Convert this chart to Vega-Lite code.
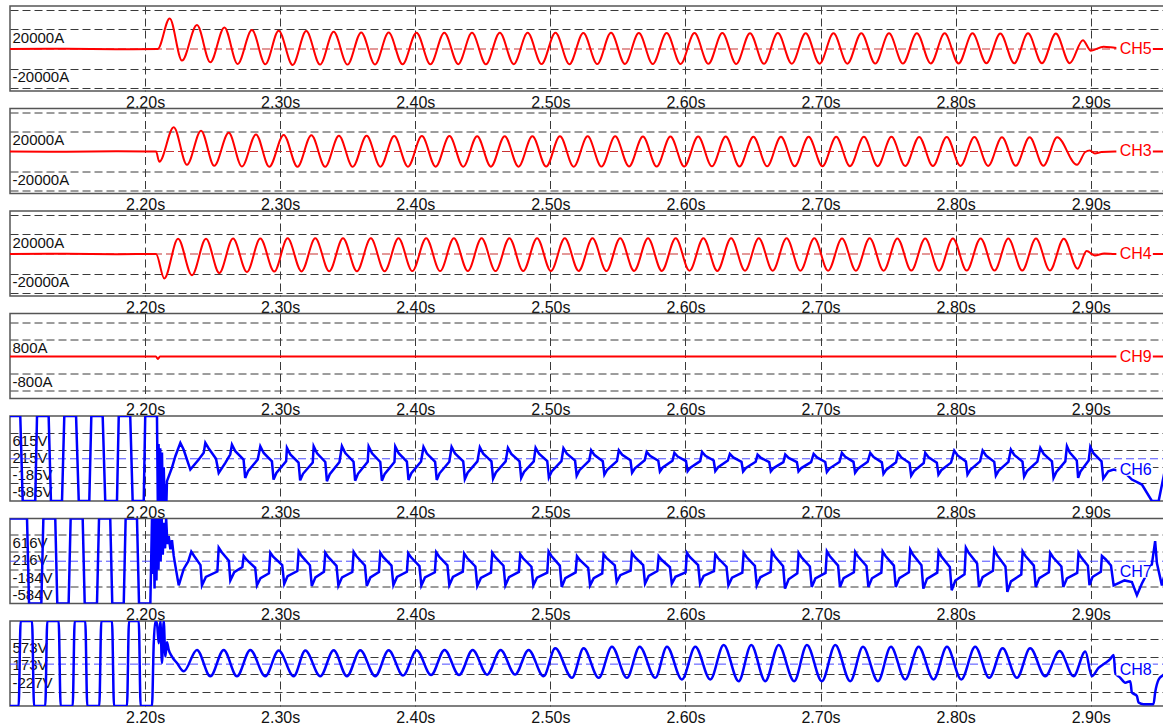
{
"$schema":"https://vega.github.io/schema/vega-lite/v6.json",
"padding":{"left":8,"top":5,"right":0,"bottom":0},
"background":"white",
"config":{"font":"Liberation Sans","view":{"stroke":"#555555","strokeWidth":1.5},
"axisX":{"grid":true,"gridDash":[8,4],"gridColor":"#3a3a3a","gridWidth":1,"gridOpacity":1,"ticks":false,"domain":false,"labelFontSize":16,"labelColor":"#111111","labelPadding":3,"labelFlush":false,"labelOverlap":false},
"axisY":{"grid":true,"gridDash":[8,4],"gridColor":"#3a3a3a","gridWidth":1,"gridOpacity":1,"ticks":false,"tickSize":0,"domain":false,"labelAlign":"left","labelBaseline":"top","labelPadding":-2,"labelOffset":1,"labelFontSize":15,"labelColor":"#111111","labelOverlap":false,"labelFlush":false}},
"datasets":{
"ch5":[{"t":2.1000,"v":0},{"t":2.1400,"v":300},{"t":2.1800,"v":-200},{"t":2.2093,"v":0},
{"t":2.2182,"v":31300},{"t":2.2273,"v":-11900},{"t":2.2384,"v":24500},{"t":2.2483,"v":-13600},{"t":2.2587,"v":22100},{"t":2.2685,"v":-15300},{"t":2.2791,"v":19400},{"t":2.2890,"v":-15600},{"t":2.2989,"v":18700},{"t":2.3092,"v":-16300},{"t":2.3193,"v":18400},{"t":2.3295,"v":-16000},{"t":2.3396,"v":17700},{"t":2.3498,"v":-16000},{"t":2.3600,"v":17000},{"t":2.3702,"v":-15800},{"t":2.3803,"v":16800},{"t":2.3906,"v":-15600},
{"t":2.4009,"v":16600},{"t":2.4112,"v":-15600},{"t":2.4215,"v":16700},{"t":2.4318,"v":-15500},{"t":2.4420,"v":16500},{"t":2.4523,"v":-15600},{"t":2.4626,"v":16600},{"t":2.4729,"v":-15500},{"t":2.4832,"v":16500},{"t":2.4935,"v":-15400},{"t":2.5038,"v":16600},{"t":2.5141,"v":-15500},{"t":2.5244,"v":16400},{"t":2.5347,"v":-15400},{"t":2.5449,"v":16500},{"t":2.5552,"v":-15300},{"t":2.5655,"v":16300},{"t":2.5758,"v":-15400},{"t":2.5861,"v":16400},{"t":2.5964,"v":-15300},{"t":2.6067,"v":16300},{"t":2.6170,"v":-15200},{"t":2.6273,"v":16400},{"t":2.6376,"v":-15300},{"t":2.6478,"v":16200},{"t":2.6581,"v":-15200},{"t":2.6684,"v":16300},{"t":2.6787,"v":-15100},{"t":2.6890,"v":16200},{"t":2.6993,"v":-15000},{"t":2.7096,"v":16100},{"t":2.7199,"v":-15000},{"t":2.7302,"v":16200},{"t":2.7405,"v":-14900},{"t":2.7507,"v":16000},{"t":2.7610,"v":-14900},{"t":2.7713,"v":16100},{"t":2.7816,"v":-14800},{"t":2.7919,"v":16000},{"t":2.8022,"v":-14800},{"t":2.8125,"v":16000},{"t":2.8228,"v":-14700},{"t":2.8331,"v":15900},{"t":2.8434,"v":-14700},{"t":2.8536,"v":16000},{"t":2.8639,"v":-14600},{"t":2.8742,"v":15900},{"t":2.8845,"v":-14600},
{"t":2.8942,"v":9000},{"t":2.9002,"v":-1700},{"t":2.9095,"v":2400},{"t":2.9178,"v":1300},{"t":2.9300,"v":0},{"t":2.9550,"v":0}],
"ch3":[{"t":2.1000,"v":0},{"t":2.1400,"v":-300},{"t":2.1800,"v":200},{"t":2.2081,"v":0},{"t":2.2105,"v":-10500},
{"t":2.2212,"v":24800},{"t":2.2310,"v":-13700},{"t":2.2414,"v":21300},{"t":2.2512,"v":-14700},{"t":2.2619,"v":19200},{"t":2.2717,"v":-15400},{"t":2.2821,"v":17500},{"t":2.2919,"v":-15700},{"t":2.3026,"v":17000},{"t":2.3128,"v":-15700},
{"t":2.3231,"v":16600},{"t":2.3333,"v":-15600},{"t":2.3435,"v":16200},{"t":2.3537,"v":-15700},{"t":2.3640,"v":16000},{"t":2.3742,"v":-15600},{"t":2.3844,"v":15900},{"t":2.3946,"v":-15600},{"t":2.4049,"v":15800},{"t":2.4151,"v":-15500},{"t":2.4253,"v":15800},{"t":2.4355,"v":-15600},{"t":2.4458,"v":15700},{"t":2.4560,"v":-15500},{"t":2.4662,"v":15700},{"t":2.4764,"v":-15500},{"t":2.4867,"v":15600},{"t":2.4969,"v":-15400},{"t":2.5071,"v":15600},{"t":2.5173,"v":-15500},{"t":2.5276,"v":15500},{"t":2.5378,"v":-15400},{"t":2.5480,"v":15500},{"t":2.5582,"v":-15300},{"t":2.5685,"v":15400},{"t":2.5787,"v":-15400},{"t":2.5889,"v":15400},{"t":2.5991,"v":-15300},{"t":2.6094,"v":15300},{"t":2.6196,"v":-15200},{"t":2.6298,"v":15300},{"t":2.6400,"v":-15300},{"t":2.6503,"v":15200},{"t":2.6605,"v":-15200},{"t":2.6707,"v":15200},{"t":2.6809,"v":-15100},{"t":2.6912,"v":15100},{"t":2.7014,"v":-15100},{"t":2.7116,"v":15100},{"t":2.7218,"v":-15000},{"t":2.7321,"v":15000},{"t":2.7423,"v":-15000},{"t":2.7525,"v":15000},{"t":2.7627,"v":-14900},{"t":2.7730,"v":14900},{"t":2.7832,"v":-14900},{"t":2.7934,"v":14900},{"t":2.8036,"v":-14800},{"t":2.8139,"v":14800},{"t":2.8241,"v":-14800},{"t":2.8343,"v":14700},{"t":2.8445,"v":-14700},{"t":2.8548,"v":14600},{"t":2.8650,"v":-14700},{"t":2.8752,"v":14500},{"t":2.8898,"v":-13700},
{"t":2.8960,"v":-500},{"t":2.8994,"v":1000},{"t":2.9031,"v":-2000},{"t":2.9080,"v":-500},{"t":2.9180,"v":0},{"t":2.9550,"v":0}],
"ch4":[{"t":2.1000,"v":0},{"t":2.1400,"v":300},{"t":2.1800,"v":-200},{"t":2.2081,"v":0},{"t":2.2142,"v":-25000},
{"t":2.2244,"v":15600},{"t":2.2347,"v":-21700},{"t":2.2451,"v":15600},{"t":2.2549,"v":-19400},{"t":2.2651,"v":15800},{"t":2.2754,"v":-18400},{"t":2.2853,"v":15800},{"t":2.2956,"v":-18000},{"t":2.3055,"v":16000},{"t":2.3158,"v":-17800},
{"t":2.3260,"v":16000},{"t":2.3363,"v":-17700},{"t":2.3465,"v":16100},{"t":2.3568,"v":-17600},{"t":2.3671,"v":16000},{"t":2.3773,"v":-17600},{"t":2.3876,"v":16100},{"t":2.3978,"v":-17500},{"t":2.4081,"v":16000},{"t":2.4184,"v":-17500},{"t":2.4286,"v":16100},{"t":2.4389,"v":-17400},{"t":2.4491,"v":16000},{"t":2.4594,"v":-17500},{"t":2.4697,"v":16000},{"t":2.4799,"v":-17400},{"t":2.4902,"v":16100},{"t":2.5004,"v":-17400},{"t":2.5107,"v":16000},{"t":2.5210,"v":-17300},{"t":2.5312,"v":16000},{"t":2.5415,"v":-17400},{"t":2.5517,"v":16100},{"t":2.5620,"v":-17300},{"t":2.5723,"v":16000},{"t":2.5825,"v":-17300},{"t":2.5928,"v":16000},{"t":2.6030,"v":-17200},{"t":2.6133,"v":16100},{"t":2.6236,"v":-17300},{"t":2.6338,"v":16000},{"t":2.6441,"v":-17200},{"t":2.6543,"v":16000},{"t":2.6646,"v":-17200},{"t":2.6749,"v":16000},{"t":2.6851,"v":-17100},{"t":2.6954,"v":16000},{"t":2.7056,"v":-17200},{"t":2.7159,"v":15900},{"t":2.7262,"v":-17100},{"t":2.7364,"v":16000},{"t":2.7467,"v":-17100},{"t":2.7569,"v":15900},{"t":2.7672,"v":-17000},{"t":2.7775,"v":15900},{"t":2.7877,"v":-17100},{"t":2.7980,"v":15900},{"t":2.8082,"v":-17000},{"t":2.8185,"v":15900},{"t":2.8288,"v":-17000},{"t":2.8390,"v":15800},{"t":2.8493,"v":-17000},{"t":2.8595,"v":15800},{"t":2.8698,"v":-16900},{"t":2.8801,"v":15700},{"t":2.8903,"v":-15000},
{"t":2.8970,"v":3000},{"t":2.9030,"v":-1500},{"t":2.9100,"v":500},{"t":2.9180,"v":0},{"t":2.9550,"v":0}],
"ch9":[{"t":2.1000,"v":0},{"t":2.2080,"v":0},{"t":2.2095,"v":-110},{"t":2.2110,"v":0},{"t":2.9550,"v":0}],
"ch6":[{"t":2.1000,"v":1013},{"t":2.1076,"v":1013},{"t":2.1094,"v":-1000},{"t":2.1187,"v":-1000},{"t":2.1200,"v":1013},{"t":2.1286,"v":1013},{"t":2.1303,"v":-1000},{"t":2.1385,"v":-1000},{"t":2.1402,"v":1013},{"t":2.1489,"v":1013},{"t":2.1509,"v":-1000},{"t":2.1587,"v":-1000},{"t":2.1602,"v":1013},{"t":2.1686,"v":1013},{"t":2.1705,"v":-1000},{"t":2.1792,"v":-1000},{"t":2.1805,"v":1013},{"t":2.1890,"v":1013},{"t":2.1908,"v":-1000},{"t":2.1990,"v":-1000},{"t":2.2001,"v":1013},{"t":2.2088,"v":1013},
{"t":2.2094,"v":-1000},{"t":2.2100,"v":350},{"t":2.2106,"v":-1000},{"t":2.2112,"v":250},{"t":2.2118,"v":-1000},{"t":2.2125,"v":150},{"t":2.2131,"v":-1000},{"t":2.2138,"v":-200},{"t":2.2145,"v":-1000},{"t":2.2152,"v":-600},{"t":2.2158,"v":-1000},{"t":2.2162,"v":-530},
{"t":2.2199,"v":-210},{"t":2.2224,"v":60},{"t":2.2261,"v":377},{"t":2.2285,"v":218},{"t":2.2335,"v":-256},{"t":2.2397,"v":-19},{"t":2.2434,"v":140},{"t":2.2446,"v":377},{"t":2.2470,"v":250},{"t":2.2525,"v":0},{"t":2.2545,"v":-335},{"t":2.2594,"v":-97},{"t":2.2630,"v":100},
{"t":2.2643,"v":337},{"t":2.2668,"v":179},{"t":2.2729,"v":-19},{"t":2.2741,"v":-453},{"t":2.2762,"v":-295},{"t":2.2834,"v":-18},
{"t":2.2853,"v":296},{"t":2.2878,"v":138},{"t":2.2939,"v":-59},{"t":2.2951,"v":-493},{"t":2.2972,"v":-335},{"t":2.3044,"v":-59},
{"t":2.3050,"v":258},{"t":2.3075,"v":104},{"t":2.3136,"v":-88},{"t":2.3148,"v":-510},{"t":2.3169,"v":-356},{"t":2.3241,"v":-88},
{"t":2.3248,"v":296},{"t":2.3273,"v":131},{"t":2.3334,"v":-76},{"t":2.3346,"v":-530},{"t":2.3367,"v":-365},{"t":2.3439,"v":-76},
{"t":2.3457,"v":300},{"t":2.3482,"v":136},{"t":2.3543,"v":-69},{"t":2.3555,"v":-520},{"t":2.3576,"v":-356},{"t":2.3648,"v":-69},
{"t":2.3655,"v":290},{"t":2.3680,"v":128},{"t":2.3741,"v":-75},{"t":2.3753,"v":-520},{"t":2.3774,"v":-358},{"t":2.3846,"v":-75},
{"t":2.3852,"v":290},{"t":2.3877,"v":132},{"t":2.3938,"v":-66},{"t":2.3950,"v":-500},{"t":2.3971,"v":-342},{"t":2.4043,"v":-66},
{"t":2.4061,"v":280},{"t":2.4086,"v":124},{"t":2.4147,"v":-71},{"t":2.4159,"v":-500},{"t":2.4180,"v":-344},{"t":2.4252,"v":-71},
{"t":2.4269,"v":280},{"t":2.4294,"v":128},{"t":2.4355,"v":-62},{"t":2.4367,"v":-480},{"t":2.4388,"v":-328},{"t":2.4460,"v":-62},
{"t":2.4478,"v":270},{"t":2.4503,"v":122},{"t":2.4564,"v":-63},{"t":2.4576,"v":-470},{"t":2.4597,"v":-322},{"t":2.4669,"v":-63},
{"t":2.4686,"v":258},{"t":2.4711,"v":116},{"t":2.4772,"v":-62},{"t":2.4784,"v":-453},{"t":2.4805,"v":-311},{"t":2.4877,"v":-62},
{"t":2.4891,"v":258},{"t":2.4916,"v":118},{"t":2.4977,"v":-56},{"t":2.4989,"v":-440},{"t":2.5010,"v":-300},{"t":2.5082,"v":-56},
{"t":2.5097,"v":250},{"t":2.5122,"v":120},{"t":2.5183,"v":-43},{"t":2.5195,"v":-400},{"t":2.5216,"v":-270},{"t":2.5288,"v":-43},
{"t":2.5302,"v":202},{"t":2.5327,"v":87},{"t":2.5388,"v":-57},{"t":2.5400,"v":-374},{"t":2.5421,"v":-259},{"t":2.5493,"v":-57},
{"t":2.5507,"v":202},{"t":2.5532,"v":96},{"t":2.5593,"v":-37},{"t":2.5605,"v":-330},{"t":2.5626,"v":-224},{"t":2.5698,"v":-37},
{"t":2.5713,"v":163},{"t":2.5738,"v":70},{"t":2.5799,"v":-45},{"t":2.5811,"v":-300},{"t":2.5832,"v":-207},{"t":2.5904,"v":-45},
{"t":2.5918,"v":140},{"t":2.5943,"v":53},{"t":2.6004,"v":-56},{"t":2.6016,"v":-296},{"t":2.6037,"v":-209},{"t":2.6109,"v":-56},
{"t":2.6123,"v":163},{"t":2.6148,"v":72},{"t":2.6209,"v":-41},{"t":2.6221,"v":-290},{"t":2.6242,"v":-199},{"t":2.6314,"v":-41},
{"t":2.6329,"v":116},{"t":2.6354,"v":33},{"t":2.6415,"v":-71},{"t":2.6427,"v":-300},{"t":2.6448,"v":-217},{"t":2.6520,"v":-71},
{"t":2.6534,"v":100},{"t":2.6559,"v":20},{"t":2.6620,"v":-80},{"t":2.6632,"v":-300},{"t":2.6653,"v":-220},{"t":2.6725,"v":-80},
{"t":2.6739,"v":100},{"t":2.6764,"v":20},{"t":2.6825,"v":-80},{"t":2.6837,"v":-300},{"t":2.6858,"v":-220},{"t":2.6930,"v":-80},
{"t":2.6949,"v":116},{"t":2.6974,"v":31},{"t":2.7035,"v":-76},{"t":2.7047,"v":-311},{"t":2.7068,"v":-226},{"t":2.7140,"v":-76},
{"t":2.7158,"v":140},{"t":2.7183,"v":46},{"t":2.7244,"v":-72},{"t":2.7256,"v":-330},{"t":2.7277,"v":-236},{"t":2.7349,"v":-72},
{"t":2.7368,"v":140},{"t":2.7393,"v":40},{"t":2.7454,"v":-84},{"t":2.7466,"v":-358},{"t":2.7487,"v":-258},{"t":2.7559,"v":-84},
{"t":2.7573,"v":140},{"t":2.7598,"v":32},{"t":2.7659,"v":-102},{"t":2.7671,"v":-398},{"t":2.7692,"v":-290},{"t":2.7764,"v":-102},
{"t":2.7775,"v":140},{"t":2.7800,"v":37},{"t":2.7861,"v":-91},{"t":2.7873,"v":-374},{"t":2.7894,"v":-271},{"t":2.7966,"v":-91},
{"t":2.7990,"v":194},{"t":2.8015,"v":80},{"t":2.8076,"v":-62},{"t":2.8088,"v":-374},{"t":2.8109,"v":-260},{"t":2.8181,"v":-62},
{"t":2.8200,"v":194},{"t":2.8225,"v":76},{"t":2.8286,"v":-72},{"t":2.8298,"v":-398},{"t":2.8319,"v":-280},{"t":2.8391,"v":-72},
{"t":2.8409,"v":218},{"t":2.8434,"v":90},{"t":2.8495,"v":-67},{"t":2.8507,"v":-420},{"t":2.8528,"v":-292},{"t":2.8605,"v":-67},
{"t":2.8627,"v":258},{"t":2.8652,"v":116},{"t":2.8713,"v":-62},{"t":2.8725,"v":-453},{"t":2.8746,"v":-311},{"t":2.8812,"v":-62},
{"t":2.8824,"v":296},{"t":2.8845,"v":146},{"t":2.8897,"v":-41},{"t":2.8907,"v":-453},{"t":2.8924,"v":-303},{"t":2.8985,"v":-41},
{"t":2.8997,"v":282},{"t":2.9020,"v":132},{"t":2.9080,"v":-60},{"t":2.9093,"v":-469},{"t":2.9130,"v":-296},{"t":2.9170,"v":-256},
{"t":2.9250,"v":-320},{"t":2.9305,"v":-493},{"t":2.9379,"v":-611},{"t":2.9453,"v":-1000},{"t":2.9503,"v":-1000},{"t":2.9540,"v":-414},{"t":2.9550,"v":-250}],
"ch7":[{"t":2.1000,"v":1000},{"t":2.1126,"v":1000},{"t":2.1141,"v":-990},{"t":2.1232,"v":-990},{"t":2.1247,"v":1000},{"t":2.1335,"v":1000},{"t":2.1350,"v":-990},{"t":2.1434,"v":-990},{"t":2.1449,"v":1000},{"t":2.1538,"v":1000},{"t":2.1553,"v":-990},{"t":2.1644,"v":-990},{"t":2.1659,"v":1000},{"t":2.1742,"v":1000},{"t":2.1757,"v":-990},{"t":2.1842,"v":-990},{"t":2.1856,"v":1000},{"t":2.1940,"v":1000},{"t":2.1955,"v":-990},{"t":2.2039,"v":-990},{"t":2.2051,"v":1000},
{"t":2.2057,"v":-300},{"t":2.2063,"v":1000},{"t":2.2070,"v":-640},{"t":2.2077,"v":1000},{"t":2.2084,"v":-450},{"t":2.2091,"v":1000},{"t":2.2099,"v":-200},{"t":2.2107,"v":1000},{"t":2.2115,"v":0},{"t":2.2123,"v":1000},{"t":2.2131,"v":150},{"t":2.2140,"v":900},{"t":2.2148,"v":300},{"t":2.2156,"v":1000},{"t":2.2165,"v":400},{"t":2.2175,"v":584},{"t":2.2187,"v":278},{"t":2.2199,"v":492},{"t":2.2212,"v":124},{"t":2.2224,"v":-106},{"t":2.2249,"v":-566},{"t":2.2286,"v":-182},{"t":2.2320,"v":0},
{"t":2.2342,"v":225},{"t":2.2363,"v":122},{"t":2.2410,"v":-91},{"t":2.2421,"v":-566},{"t":2.2450,"v":-368},{"t":2.2535,"v":-242},
{"t":2.2545,"v":317},{"t":2.2566,"v":217},{"t":2.2620,"v":10},{"t":2.2631,"v":-450},{"t":2.2660,"v":-258},{"t":2.2720,"v":-136},
{"t":2.2730,"v":124},{"t":2.2751,"v":34},{"t":2.2815,"v":-152},{"t":2.2828,"v":-566},{"t":2.2855,"v":-394},{"t":2.2917,"v":-283},
{"t":2.2927,"v":202},{"t":2.2948,"v":107},{"t":2.3015,"v":-91},{"t":2.3030,"v":-530},{"t":2.3055,"v":-347},{"t":2.3127,"v":-230},
{"t":2.3137,"v":230},{"t":2.3158,"v":125},{"t":2.3220,"v":-94},{"t":2.3234,"v":-580},{"t":2.3261,"v":-378},{"t":2.3324,"v":-248},
{"t":2.3334,"v":200},{"t":2.3355,"v":100},{"t":2.3417,"v":-108},{"t":2.3431,"v":-570},{"t":2.3458,"v":-378},{"t":2.3534,"v":-254},
{"t":2.3544,"v":220},{"t":2.3565,"v":116},{"t":2.3627,"v":-100},{"t":2.3641,"v":-580},{"t":2.3668,"v":-380},{"t":2.3731,"v":-252},
{"t":2.3741,"v":200},{"t":2.3762,"v":101},{"t":2.3824,"v":-104},{"t":2.3838,"v":-560},{"t":2.3865,"v":-370},{"t":2.3938,"v":-248},
{"t":2.3948,"v":190},{"t":2.3969,"v":91},{"t":2.4031,"v":-114},{"t":2.4045,"v":-570},{"t":2.4072,"v":-380},{"t":2.4145,"v":-258},
{"t":2.4155,"v":210},{"t":2.4176,"v":110},{"t":2.4238,"v":-98},{"t":2.4252,"v":-560},{"t":2.4279,"v":-368},{"t":2.4352,"v":-244},
{"t":2.4362,"v":180},{"t":2.4383,"v":81},{"t":2.4445,"v":-124},{"t":2.4459,"v":-580},{"t":2.4486,"v":-390},{"t":2.4560,"v":-268},
{"t":2.4570,"v":200},{"t":2.4591,"v":100},{"t":2.4653,"v":-106},{"t":2.4667,"v":-566},{"t":2.4694,"v":-374},{"t":2.4767,"v":-252},
{"t":2.4777,"v":163},{"t":2.4798,"v":68},{"t":2.4860,"v":-129},{"t":2.4874,"v":-566},{"t":2.4901,"v":-384},{"t":2.4977,"v":-267},
{"t":2.4987,"v":230},{"t":2.5008,"v":122},{"t":2.5070,"v":-103},{"t":2.5084,"v":-603},{"t":2.5111,"v":-395},{"t":2.5187,"v":-261},
{"t":2.5197,"v":117},{"t":2.5218,"v":28},{"t":2.5280,"v":-156},{"t":2.5294,"v":-566},{"t":2.5321,"v":-395},{"t":2.5384,"v":-286},
{"t":2.5394,"v":163},{"t":2.5415,"v":78},{"t":2.5477,"v":-98},{"t":2.5491,"v":-489},{"t":2.5518,"v":-326},{"t":2.5594,"v":-222},
{"t":2.5604,"v":196},{"t":2.5625,"v":102},{"t":2.5687,"v":-93},{"t":2.5701,"v":-527},{"t":2.5728,"v":-346},{"t":2.5792,"v":-231},
{"t":2.5802,"v":117},{"t":2.5823,"v":33},{"t":2.5885,"v":-141},{"t":2.5899,"v":-527},{"t":2.5926,"v":-366},{"t":2.6001,"v":-263},
{"t":2.6011,"v":196},{"t":2.6032,"v":102},{"t":2.6094,"v":-93},{"t":2.6108,"v":-527},{"t":2.6135,"v":-346},{"t":2.6211,"v":-231},
{"t":2.6221,"v":163},{"t":2.6242,"v":68},{"t":2.6304,"v":-129},{"t":2.6318,"v":-566},{"t":2.6345,"v":-384},{"t":2.6421,"v":-267},
{"t":2.6431,"v":196},{"t":2.6452,"v":97},{"t":2.6514,"v":-109},{"t":2.6528,"v":-566},{"t":2.6555,"v":-376},{"t":2.6630,"v":-254},
{"t":2.6640,"v":230},{"t":2.6661,"v":117},{"t":2.6723,"v":-119},{"t":2.6737,"v":-642},{"t":2.6764,"v":-424},{"t":2.6828,"v":-284},
{"t":2.6838,"v":196},{"t":2.6859,"v":92},{"t":2.6921,"v":-124},{"t":2.6935,"v":-603},{"t":2.6962,"v":-403},{"t":2.7037,"v":-275},
{"t":2.7047,"v":230},{"t":2.7068,"v":122},{"t":2.7130,"v":-103},{"t":2.7144,"v":-603},{"t":2.7171,"v":-395},{"t":2.7247,"v":-261},
{"t":2.7257,"v":215},{"t":2.7278,"v":109},{"t":2.7340,"v":-112},{"t":2.7354,"v":-603},{"t":2.7381,"v":-399},{"t":2.7450,"v":-268},
{"t":2.7460,"v":230},{"t":2.7481,"v":122},{"t":2.7543,"v":-103},{"t":2.7557,"v":-603},{"t":2.7584,"v":-395},{"t":2.7654,"v":-261},
{"t":2.7664,"v":270},{"t":2.7685,"v":151},{"t":2.7747,"v":-95},{"t":2.7761,"v":-642},{"t":2.7788,"v":-414},{"t":2.7864,"v":-268},
{"t":2.7874,"v":230},{"t":2.7895,"v":112},{"t":2.7957,"v":-134},{"t":2.7971,"v":-680},{"t":2.7998,"v":-452},{"t":2.8066,"v":-307},
{"t":2.8076,"v":317},{"t":2.8097,"v":197},{"t":2.8159,"v":-51},{"t":2.8173,"v":-603},{"t":2.8200,"v":-373},{"t":2.8276,"v":-226},
{"t":2.8286,"v":270},{"t":2.8307,"v":142},{"t":2.8369,"v":-125},{"t":2.8383,"v":-718},{"t":2.8410,"v":-471},{"t":2.8486,"v":-313},
{"t":2.8496,"v":230},{"t":2.8517,"v":122},{"t":2.8579,"v":-103},{"t":2.8593,"v":-603},{"t":2.8620,"v":-395},{"t":2.8690,"v":-261},
{"t":2.8700,"v":196},{"t":2.8721,"v":92},{"t":2.8783,"v":-124},{"t":2.8797,"v":-603},{"t":2.8824,"v":-403},{"t":2.8900,"v":-275},
{"t":2.8910,"v":196},{"t":2.8928,"v":98},{"t":2.8979,"v":-106},{"t":2.8991,"v":-560},{"t":2.9013,"v":-371},{"t":2.9075,"v":-250},
{"t":2.9083,"v":124},{"t":2.9110,"v":47},{"t":2.9150,"v":-100},{"t":2.9170,"v":-566},{"t":2.9250,"v":-450},{"t":2.9305,"v":-488},{"t":2.9342,"v":-796},{"t":2.9379,"v":-523},{"t":2.9453,"v":-67},{"t":2.9477,"v":470},{"t":2.9490,"v":-45},{"t":2.9527,"v":-566},{"t":2.9540,"v":-400},{"t":2.9550,"v":-300}],
"ch8":[{"t":2.1000,"v":-956},{"t":2.1064,"v":-956},{"t":2.1079,"v":985},{"t":2.1163,"v":985},{"t":2.1178,"v":-956},{"t":2.1261,"v":-956},{"t":2.1276,"v":985},{"t":2.1360,"v":985},{"t":2.1375,"v":-956},{"t":2.1464,"v":-956},{"t":2.1479,"v":985},{"t":2.1557,"v":985},{"t":2.1572,"v":-956},{"t":2.1661,"v":-956},{"t":2.1676,"v":985},{"t":2.1755,"v":985},{"t":2.1770,"v":-956},{"t":2.1866,"v":-956},{"t":2.1881,"v":985},{"t":2.1953,"v":985},{"t":2.1967,"v":-956},{"t":2.2051,"v":-956},
{"t":2.2064,"v":475},{"t":2.2076,"v":985},{"t":2.2088,"v":925},{"t":2.2101,"v":475},{"t":2.2113,"v":985},{"t":2.2125,"v":25},{"t":2.2138,"v":985},{"t":2.2150,"v":173},{"t":2.2162,"v":500},{"t":2.2175,"v":324},{"t":2.2199,"v":173},{"t":2.2236,"v":25},{"t":2.2286,"v":-164},
{"t":2.2384,"v":324},{"t":2.2483,"v":-277},{"t":2.2582,"v":324},{"t":2.2680,"v":-277},{"t":2.2779,"v":324},{"t":2.2890,"v":-277},{"t":2.2989,"v":310},{"t":2.3100,"v":-277},{"t":2.3186,"v":310},{"t":2.3297,"v":-277},{"t":2.3396,"v":317},{"t":2.3494,"v":-277},{"t":2.3593,"v":317},{"t":2.3704,"v":-277},{"t":2.3803,"v":317},{"t":2.3910,"v":-260},{"t":2.4010,"v":317},{"t":2.4117,"v":-250},{"t":2.4217,"v":324},{"t":2.4324,"v":-250},{"t":2.4425,"v":324},{"t":2.4532,"v":-240},{"t":2.4632,"v":324},{"t":2.4739,"v":-238},{"t":2.4839,"v":324},{"t":2.4950,"v":-277},{"t":2.5036,"v":362},{"t":2.5160,"v":-313},{"t":2.5246,"v":362},{"t":2.5358,"v":-313},{"t":2.5456,"v":398},{"t":2.5567,"v":-313},{"t":2.5661,"v":398},{"t":2.5777,"v":-313},{"t":2.5863,"v":398},{"t":2.5974,"v":-351},{"t":2.6073,"v":398},{"t":2.6184,"v":-351},{"t":2.6283,"v":437},{"t":2.6394,"v":-389},{"t":2.6487,"v":437},{"t":2.6591,"v":-389},{"t":2.6690,"v":437},{"t":2.6805,"v":-389},{"t":2.6899,"v":437},{"t":2.7010,"v":-389},{"t":2.7109,"v":437},{"t":2.7220,"v":-389},{"t":2.7314,"v":398},{"t":2.7425,"v":-389},{"t":2.7521,"v":398},{"t":2.7627,"v":-351},{"t":2.7726,"v":398},{"t":2.7837,"v":-351},{"t":2.7936,"v":398},{"t":2.8042,"v":-351},{"t":2.8145,"v":398},{"t":2.8249,"v":-313},{"t":2.8348,"v":362},{"t":2.8454,"v":-313},{"t":2.8552,"v":362},{"t":2.8663,"v":-277},{"t":2.8770,"v":300},{"t":2.8873,"v":-277},{"t":2.8960,"v":286},{"t":2.9009,"v":-277},{"t":2.9058,"v":-88},{"t":2.9107,"v":25},{"t":2.9144,"v":115},{"t":2.9170,"v":211},{"t":2.9182,"v":-200},{"t":2.9219,"v":-313},{"t":2.9256,"v":-425},{"t":2.9293,"v":-389},{"t":2.9305,"v":-650},{"t":2.9342,"v":-727},{"t":2.9354,"v":-875},{"t":2.9391,"v":-914},{"t":2.9465,"v":-914},{"t":2.9477,"v":-650},{"t":2.9503,"v":-351},{"t":2.9540,"v":-238},{"t":2.9550,"v":-200}]
},
"vconcat":[
{"width":1155,"height":85,
"encoding":{"x":{"field":"t","type":"quantitative","scale":{"domain":[2.1,2.955],"nice":false,"zero":false},"axis":{"values":[2.2,2.3,2.4,2.5,2.6,2.7,2.8,2.9],"labelExpr":"format(datum.value,'.2f')+'s'","title":null}},
"y":{"field":"v","type":"quantitative","scale":{"domain":[-43000,44000],"nice":false,"zero":false},"axis":{"values":[-40000,-20000,20000,40000],"labelExpr":"abs(datum.value)==20000 ? datum.value+'A' : ''","title":null}}},
"layer":[
{"data":{"values":[{"t":2.1,"t2":2.955,"v":0}]},"mark":{"type":"rule","color":"#c83232","strokeDash":[8,4],"strokeWidth":1.2},"encoding":{"x2":{"field":"t2"}}},
{"data":{"name":"ch5"},"mark":{"type":"line","color":"#ff0000","strokeWidth":2,"interpolate":"monotone","clip":true}},
{"data":{"values":[{"t":2.919,"t2":2.946,"v":-7500,"v2":7500}]},"mark":{"type":"rect","color":"white"},"encoding":{"x2":{"field":"t2"},"y2":{"field":"v2"}}},
{"data":{"values":[{"t":2.9215,"v":0,"lab":"CH5"}]},"mark":{"type":"text","align":"left","baseline":"middle","color":"#ff0000","fontSize":16},"encoding":{"text":{"field":"lab"}}}
]},
{"width":1155,"height":85,
"encoding":{"x":{"field":"t","type":"quantitative","scale":{"domain":[2.1,2.955],"nice":false,"zero":false},"axis":{"values":[2.2,2.3,2.4,2.5,2.6,2.7,2.8,2.9],"labelExpr":"format(datum.value,'.2f')+'s'","title":null}},
"y":{"field":"v","type":"quantitative","scale":{"domain":[-43000,44000],"nice":false,"zero":false},"axis":{"values":[-40000,-20000,20000,40000],"labelExpr":"abs(datum.value)==20000 ? datum.value+'A' : ''","title":null}}},
"layer":[
{"data":{"values":[{"t":2.1,"t2":2.955,"v":0}]},"mark":{"type":"rule","color":"#c83232","strokeDash":[8,4],"strokeWidth":1.2},"encoding":{"x2":{"field":"t2"}}},
{"data":{"name":"ch3"},"mark":{"type":"line","color":"#ff0000","strokeWidth":2,"interpolate":"monotone","clip":true}},
{"data":{"values":[{"t":2.919,"t2":2.946,"v":-7500,"v2":7500}]},"mark":{"type":"rect","color":"white"},"encoding":{"x2":{"field":"t2"},"y2":{"field":"v2"}}},
{"data":{"values":[{"t":2.9215,"v":0,"lab":"CH3"}]},"mark":{"type":"text","align":"left","baseline":"middle","color":"#ff0000","fontSize":16},"encoding":{"text":{"field":"lab"}}}
]},
{"width":1155,"height":85,
"encoding":{"x":{"field":"t","type":"quantitative","scale":{"domain":[2.1,2.955],"nice":false,"zero":false},"axis":{"values":[2.2,2.3,2.4,2.5,2.6,2.7,2.8,2.9],"labelExpr":"format(datum.value,'.2f')+'s'","title":null}},
"y":{"field":"v","type":"quantitative","scale":{"domain":[-43000,44000],"nice":false,"zero":false},"axis":{"values":[-40000,-20000,20000,40000],"labelExpr":"abs(datum.value)==20000 ? datum.value+'A' : ''","title":null}}},
"layer":[
{"data":{"values":[{"t":2.1,"t2":2.955,"v":0}]},"mark":{"type":"rule","color":"#c83232","strokeDash":[8,4],"strokeWidth":1.2},"encoding":{"x2":{"field":"t2"}}},
{"data":{"name":"ch4"},"mark":{"type":"line","color":"#ff0000","strokeWidth":2,"interpolate":"monotone","clip":true}},
{"data":{"values":[{"t":2.919,"t2":2.946,"v":-7500,"v2":7500}]},"mark":{"type":"rect","color":"white"},"encoding":{"x2":{"field":"t2"},"y2":{"field":"v2"}}},
{"data":{"values":[{"t":2.9215,"v":0,"lab":"CH4"}]},"mark":{"type":"text","align":"left","baseline":"middle","color":"#ff0000","fontSize":16},"encoding":{"text":{"field":"lab"}}}
]},
{"width":1155,"height":85,
"encoding":{"x":{"field":"t","type":"quantitative","scale":{"domain":[2.1,2.955],"nice":false,"zero":false},"axis":{"values":[2.2,2.3,2.4,2.5,2.6,2.7,2.8,2.9],"labelExpr":"format(datum.value,'.2f')+'s'","title":null}},
"y":{"field":"v","type":"quantitative","scale":{"domain":[-1950,2000],"nice":false,"zero":false},"axis":{"values":[-1600,-800,800,1600],"labelExpr":"abs(datum.value)==800 ? datum.value+'A' : ''","title":null}}},
"layer":[
{"data":{"name":"ch9"},"mark":{"type":"line","color":"#ff0000","strokeWidth":2,"interpolate":"monotone","clip":true}},
{"data":{"values":[{"t":2.919,"t2":2.946,"v":-330,"v2":330}]},"mark":{"type":"rect","color":"white"},"encoding":{"x2":{"field":"t2"},"y2":{"field":"v2"}}},
{"data":{"values":[{"t":2.9215,"v":0,"lab":"CH9"}]},"mark":{"type":"text","align":"left","baseline":"middle","color":"#ff0000","fontSize":16},"encoding":{"text":{"field":"lab"}}}
]},
{"width":1155,"height":85,
"encoding":{"x":{"field":"t","type":"quantitative","scale":{"domain":[2.1,2.955],"nice":false,"zero":false},"axis":{"values":[2.2,2.3,2.4,2.5,2.6,2.7,2.8,2.9],"labelExpr":"format(datum.value,'.2f')+'s'","title":null}},
"y":{"field":"v","type":"quantitative","scale":{"domain":[-1000,1013],"nice":false,"zero":false},"axis":{"values":[615,215,-185,-585],"labelExpr":"datum.value+'V'","title":null}}},
"layer":[
{"data":{"values":[{"t":2.1,"t2":2.955,"v":0}]},"mark":{"type":"rule","color":"#4a4aff","strokeDash":[8,4],"strokeWidth":1},"encoding":{"x2":{"field":"t2"}}},
{"data":{"name":"ch6"},"mark":{"type":"line","color":"#0000ff","strokeWidth":2.5,"clip":true}},
{"data":{"values":[{"t":2.919,"t2":2.946,"v":-400,"v2":-130}]},"mark":{"type":"rect","color":"white"},"encoding":{"x2":{"field":"t2"},"y2":{"field":"v2"}}},
{"data":{"values":[{"t":2.9215,"v":-263,"lab":"CH6"}]},"mark":{"type":"text","align":"left","baseline":"middle","color":"#0000ff","fontSize":16},"encoding":{"text":{"field":"lab"}}}
]},
{"width":1155,"height":85,
"encoding":{"x":{"field":"t","type":"quantitative","scale":{"domain":[2.1,2.955],"nice":false,"zero":false},"axis":{"values":[2.2,2.3,2.4,2.5,2.6,2.7,2.8,2.9],"labelExpr":"format(datum.value,'.2f')+'s'","title":null}},
"y":{"field":"v","type":"quantitative","scale":{"domain":[-990,1000],"nice":false,"zero":false},"axis":{"values":[616,216,-184,-584],"labelExpr":"datum.value+'V'","title":null}}},
"layer":[
{"data":{"values":[{"t":2.1,"t2":2.955,"v":0}]},"mark":{"type":"rule","color":"#4a4aff","strokeDash":[8,4],"strokeWidth":1},"encoding":{"x2":{"field":"t2"}}},
{"data":{"name":"ch7"},"mark":{"type":"line","color":"#0000ff","strokeWidth":2.5,"clip":true}},
{"data":{"values":[{"t":2.919,"t2":2.946,"v":-390,"v2":-110}]},"mark":{"type":"rect","color":"white"},"encoding":{"x2":{"field":"t2"},"y2":{"field":"v2"}}},
{"data":{"values":[{"t":2.9215,"v":-250,"lab":"CH7"}]},"mark":{"type":"text","align":"left","baseline":"middle","color":"#0000ff","fontSize":16},"encoding":{"text":{"field":"lab"}}}
]},
{"width":1155,"height":85,
"encoding":{"x":{"field":"t","type":"quantitative","scale":{"domain":[2.1,2.955],"nice":false,"zero":false},"axis":{"values":[2.2,2.3,2.4,2.5,2.6,2.7,2.8,2.9],"labelExpr":"format(datum.value,'.2f')+'s'","title":null}},
"y":{"field":"v","type":"quantitative","scale":{"domain":[-956,985],"nice":false,"zero":false},"axis":{"values":[573,173,-227,-627],"labelExpr":"datum.value==-627 ? '' : datum.value+'V'","title":null}}},
"layer":[
{"data":{"values":[{"t":2.1,"t2":2.955,"v":0}]},"mark":{"type":"rule","color":"#4a4aff","strokeDash":[8,4],"strokeWidth":1},"encoding":{"x2":{"field":"t2"}}},
{"data":{"name":"ch8"},"mark":{"type":"line","color":"#0000ff","strokeWidth":2.5,"interpolate":"monotone","clip":true}},
{"data":{"values":[{"t":2.919,"t2":2.946,"v":-260,"v2":20}]},"mark":{"type":"rect","color":"white"},"encoding":{"x2":{"field":"t2"},"y2":{"field":"v2"}}},
{"data":{"values":[{"t":2.9215,"v":-126,"lab":"CH8"}]},"mark":{"type":"text","align":"left","baseline":"middle","color":"#0000ff","fontSize":16},"encoding":{"text":{"field":"lab"}}}
]}
],
"spacing":17.5,
"bounds":"flush"
}
